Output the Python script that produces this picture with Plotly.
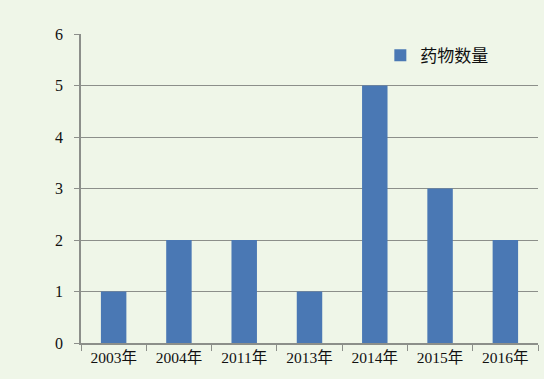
import plotly.graph_objects as go

categories = ["2003年", "2004年", "2011年", "2013年", "2014年", "2015年", "2016年"]
values = [1, 2, 2, 1, 5, 3, 2]
series_name = "药物数量"
y_ticks = [0, 1, 2, 3, 4, 5, 6]

bg = "#eff6e8"
grid = "#8c8f8a"
font_fam = "Liberation Serif, Noto Sans CJK SC, serif"

fig = go.Figure()
fig.add_trace(go.Bar(x=categories, y=values, name=series_name,
                     marker=dict(color="#4a78b4", line=dict(width=0)),
                     showlegend=True))

fig.update_layout(
    width=544, height=379,
    margin=dict(l=81, r=6, t=34, b=36),
    paper_bgcolor=bg, plot_bgcolor=bg,
    bargap=0.61,
    font=dict(family=font_fam, size=15, color="#111111"),
    legend=dict(x=0.655, y=0.93, xanchor="left", yanchor="middle",
                bgcolor="rgba(0,0,0,0)", font=dict(size=17, family="Noto Sans CJK SC", color="#111111"),
                itemwidth=30),
    xaxis=dict(showline=True, linecolor=grid, linewidth=1.5,
               ticks="outside", tickson="boundaries", ticklen=6, tickcolor=grid,
               showgrid=False, tickfont=dict(size=15.5)),
    yaxis=dict(range=[0, 6], tickvals=y_ticks, showline=True, linecolor=grid,
               linewidth=1.5, ticks="outside", ticklen=5, tickcolor=grid,
               showgrid=True, gridcolor=grid, gridwidth=1.3, zeroline=False,
               tickfont=dict(size=16), ticklabelstandoff=8),
)

fig.write_html("out.html")
